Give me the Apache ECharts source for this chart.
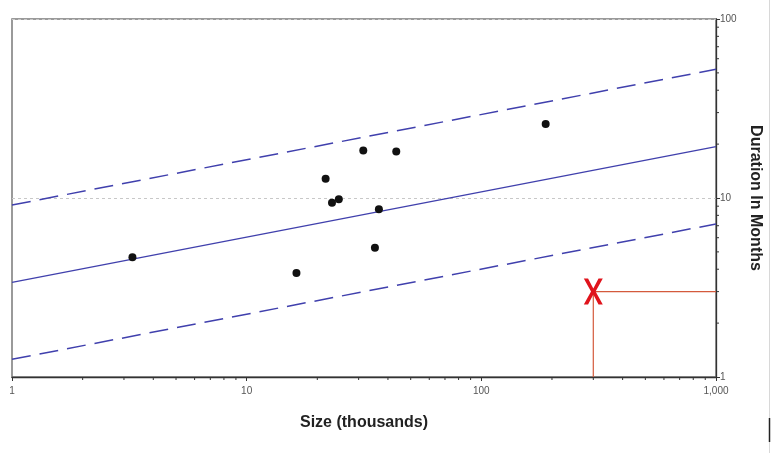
<!DOCTYPE html>
<html>
<head>
<meta charset="utf-8">
<script src="https://cdn.jsdelivr.net/npm/echarts@6/dist/echarts.min.js"></script>
<style>
  html, body { margin: 0; padding: 0; background: #fff; }
  #chart { width: 772px; height: 453px; }
</style>
</head>
<body>
<div id="chart"></div>
<script>
// Project size (thousands) vs. duration (months), log-log
const projectSize = [3.26, 16.3, 21.7, 23.1, 24.7, 31.4, 35.2, 36.6, 43.4, 188];
const projectDuration = [4.66, 3.81, 12.8, 9.41, 9.83, 18.4, 5.28, 8.65, 18.2, 25.9];

// Trend line and its upper/lower bands, as end points [size, months]
const trendLine = [[1, 3.38], [1000, 19.35]];
const upperBand = [[1, 9.14], [1000, 52.4]];
const lowerBand = [[1, 1.256], [1000, 7.16]];

// Estimate being checked, with its guide lines to the axes
const estimatePoint = [[300, 3]];
const guideToRight = [[300, 3], [1000, 3]];
const guideToBottom = [[300, 3], [300, 1]];

// Axis ranges and minor tick positions
const xRange = [1, 1000];
const yRange = [1, 100];
const xMinorTicks = [2, 3, 4, 5, 6, 7, 8, 9, 20, 30, 40, 50, 60, 70, 80, 90, 200, 300, 400, 500, 600, 700, 800, 900];
const yMinorTicks = [2, 3, 4, 5, 6, 7, 8, 9, 20, 30, 40, 50, 60, 70, 80, 90];

const bandColor = '#4040ad';
const axisColor = '#333';
const guideColor = '#d45a3c';

const chart = echarts.init(document.getElementById('chart'), null, { renderer: 'canvas' });

function minorTickSeries(values, onX) {
  return {
    type: 'custom',
    silent: true,
    clip: false,
    z: 5,
    data: values.map(v => onX ? [v, yRange[0]] : [xRange[1], v]),
    renderItem: function (params, api) {
      const p = api.coord([api.value(0), api.value(1)]);
      const shape = onX
        ? { x1: p[0], y1: p[1], x2: p[0], y2: p[1] + 3 }
        : { x1: p[0], y1: p[1], x2: p[0] + 3, y2: p[1] };
      return { type: 'line', shape: shape, style: { stroke: axisColor, lineWidth: 1 } };
    }
  };
}

chart.setOption({
  animation: false,
  backgroundColor: '#fff',
  grid: {
    left: 12, right: 56, top: 19, bottom: 76,
    show: true,
    borderColor: '#7a7a7a',
    borderWidth: 1.5,
    backgroundColor: 'transparent'
  },
  xAxis: {
    type: 'log',
    logBase: 10,
    min: xRange[0],
    max: xRange[1],
    name: 'Size (thousands)',
    nameLocation: 'middle',
    nameGap: 38,
    nameTextStyle: { fontFamily: 'Liberation Sans', fontWeight: 'bold', fontSize: 16, color: '#222' },
    axisLine: { lineStyle: { color: axisColor, width: 1.3 } },
    axisTick: { show: true, length: 4, lineStyle: { color: axisColor } },
    axisLabel: {
      fontFamily: 'Liberation Sans', fontSize: 10, color: '#555', margin: 9,
      formatter: v => v >= 1000 ? '1,000' : String(v)
    },
    splitLine: { show: false }
  },
  yAxis: {
    type: 'log',
    logBase: 10,
    position: 'right',
    min: yRange[0],
    max: yRange[1],
    name: 'Duration In Months',
    nameLocation: 'middle',
    nameRotate: -90,
    nameGap: 31,
    nameTextStyle: { fontFamily: 'Liberation Sans', fontWeight: 'bold', fontSize: 16, color: '#222' },
    axisLine: { lineStyle: { color: axisColor, width: 1.3 } },
    axisTick: { show: true, length: 4, lineStyle: { color: axisColor } },
    axisLabel: { fontFamily: 'Liberation Sans', fontSize: 10, color: '#555', margin: 4 },
    splitLine: { show: true, lineStyle: { color: '#c8c8c8', type: [3, 3], width: 1 } }
  },
  series: [
    {
      name: 'Upper band', type: 'line', data: upperBand, showSymbol: false, silent: true,
      lineStyle: { color: bandColor, width: 1.5, type: [19, 9] }
    },
    {
      name: 'Trend', type: 'line', data: trendLine, showSymbol: false, silent: true,
      lineStyle: { color: bandColor, width: 1.4 }
    },
    {
      name: 'Lower band', type: 'line', data: lowerBand, showSymbol: false, silent: true,
      lineStyle: { color: bandColor, width: 1.5, type: [19, 9] }
    },
    {
      name: 'Guide right', type: 'line', data: guideToRight, showSymbol: false, silent: true,
      lineStyle: { color: guideColor, width: 1.2 }
    },
    {
      name: 'Guide bottom', type: 'line', data: guideToBottom, showSymbol: false, silent: true,
      lineStyle: { color: guideColor, width: 1.2 }
    },
    {
      name: 'Projects', type: 'scatter',
      data: projectSize.map((s, i) => [s, projectDuration[i]]),
      symbol: 'circle', symbolSize: 8,
      itemStyle: { color: '#111', opacity: 1 },
      z: 4
    },
    {
      name: 'Estimate', type: 'scatter', data: estimatePoint,
      symbol: 'path://M0,0 L4.5,0 L10,10 L15.5,0 L20,0 L12.4,13 L20,26 L15.5,26 L10,16 L4.5,26 L0,26 L7.6,13 Z',
      symbolSize: [19, 26],
      itemStyle: { color: '#e0141c', opacity: 1 },
      z: 6
    },
    minorTickSeries(xMinorTicks, true),
    minorTickSeries(yMinorTicks, false)
  ],
  graphic: [
    { type: 'line', silent: true, shape: { x1: 769.5, y1: 0, x2: 769.5, y2: 453 }, style: { stroke: '#d8d8d8', lineWidth: 1 } },
    { type: 'line', silent: true, shape: { x1: 769.5, y1: 418, x2: 769.5, y2: 442 }, style: { stroke: '#222', lineWidth: 1.5 } }
  ]
});
</script>
</body>
</html>
